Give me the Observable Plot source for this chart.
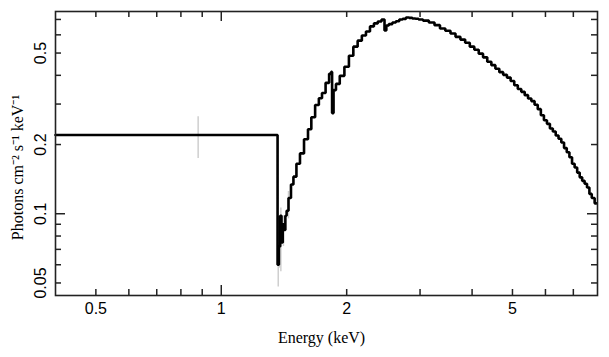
<!DOCTYPE html>
<html>
<head>
<meta charset="utf-8">
<script src="https://cdn.jsdelivr.net/npm/d3@7"></script>
<script src="https://cdn.jsdelivr.net/npm/@observablehq/plot@0.6"></script>
<style>
  html, body { margin: 0; padding: 0; background: #fff; }
</style>
</head>
<body>
<div id="chart"></div>
<script>
// Spectrum (energy in keV, flux in photons cm^-2 s^-1 keV^-1)
const energy = [0.4, 1.36, 1.37, 1.38, 1.39, 1.40, 1.41, 1.42, 1.43, 1.44, 1.46, 1.48, 1.50,
  1.53, 1.56, 1.60, 1.63, 1.66, 1.70, 1.73, 1.76, 1.80, 1.83,
  1.84, 1.85, 1.87, 1.90, 1.95, 2.0, 2.05, 2.1, 2.15, 2.2,
  2.25, 2.3, 2.35, 2.4, 2.45, 2.48, 2.5, 2.55, 2.6, 2.65, 2.7, 2.75, 2.8,
  2.85, 2.9, 2.95, 3.0, 3.1, 3.2, 3.3, 3.4, 3.5, 3.6, 3.7, 3.8, 3.9,
  4.0, 4.1, 4.2, 4.3, 4.4, 4.5, 4.6, 4.7, 4.8, 4.9,
  5.0, 5.1, 5.2, 5.3, 5.4, 5.5, 5.6, 5.7, 5.8, 5.9,
  6.0, 6.1, 6.2, 6.3, 6.4, 6.5, 6.6, 6.7, 6.8, 6.9,
  7.0, 7.1, 7.2, 7.3, 7.4, 7.5, 7.6, 7.7, 7.8, 7.95];
const flux = [0.22, 0.22, 0.060, 0.072, 0.098, 0.075, 0.090, 0.085, 0.098, 0.103, 0.117, 0.134, 0.145,
  0.165, 0.183, 0.211, 0.233, 0.263, 0.297, 0.318, 0.335, 0.371, 0.406,
  0.414, 0.274, 0.345, 0.367, 0.398, 0.436, 0.487, 0.533, 0.566, 0.596,
  0.620, 0.653, 0.673, 0.686, 0.700, 0.627, 0.659, 0.668, 0.679, 0.688, 0.700, 0.704, 0.714,
  0.711, 0.707, 0.705, 0.700, 0.692, 0.679, 0.661, 0.639, 0.625, 0.608, 0.588, 0.572, 0.554,
  0.533, 0.517, 0.497, 0.479, 0.458, 0.443, 0.427, 0.413, 0.402, 0.391,
  0.378, 0.362, 0.349, 0.339, 0.328, 0.317, 0.309, 0.298, 0.285, 0.268,
  0.255, 0.246, 0.235, 0.228, 0.219, 0.212, 0.204, 0.193, 0.185, 0.176,
  0.165, 0.159, 0.151, 0.144, 0.139, 0.135, 0.130, 0.122, 0.117, 0.111];

// Error bars (grey)
const errEnergy = [0.88, 1.37, 1.38, 1.39, 1.41, 1.45];
const errLow    = [0.174, 0.048, 0.058, 0.056, 0.072, 0.095];
const errHigh   = [0.264, 0.075, 0.085, 0.106, 0.098, 0.125];

// Ticks
const xLabels = [0.5, 1, 2, 5];
const xMinor = [0.5, 0.6, 0.7, 0.8, 0.9, 2, 3, 4, 5, 6, 7];
const xMajor = [1];
const yLabels = [0.05, 0.1, 0.2, 0.5];
const yMinor = [0.05, 0.06, 0.07, 0.08, 0.09, 0.2, 0.3, 0.4, 0.5, 0.6, 0.7];
const yMajor = [0.1];

const xTitle = "Energy (keV)";
const yTitle = "Photons cm\u207B\u00B2 s\u207B\u00B9 keV\u207B\u00B9";

const spectrum = energy.map((e, i) => ({e, f: flux[i]}));
const errs = errEnergy.map((e, i) => ({e, lo: errLow[i], hi: errHigh[i]}));

const W = 609, H = 357, ML = 55, MR = 12, MT = 11, MB = 62;
const FW = W - ML - MR, FH = H - MT - MB;
const sans = "'Liberation Sans', Arial, sans-serif";
const serif = "'Liberation Serif', 'Times New Roman', serif";

const chart = Plot.plot({
  width: W,
  height: H,
  marginLeft: ML,
  marginRight: MR,
  marginTop: MT,
  marginBottom: MB,
  style: {fontFamily: sans, fontSize: "16px", background: "white", color: "black"},
  x: {type: "log", domain: [0.4, 8.0], axis: null},
  y: {type: "log", domain: [0.0441, 0.758], axis: null},
  marks: [
    Plot.ruleX(errs, {x: "e", y1: "lo", y2: "hi", stroke: "#cfcfcf", strokeWidth: 1.5}),
    Plot.line(spectrum, {x: "e", y: "f", curve: "step", stroke: "black", strokeWidth: 2.6, strokeLinejoin: "miter"}),
    // inward ticks on all four sides
    Plot.ruleX(xMinor, {x: d => d, insetTop: FH - 6, stroke: "#222", strokeWidth: 1.5}),
    Plot.ruleX(xMinor, {x: d => d, insetBottom: FH - 6, stroke: "#222", strokeWidth: 1.5}),
    Plot.ruleX(xMajor, {x: d => d, insetTop: FH - 10, stroke: "#222", strokeWidth: 1.5}),
    Plot.ruleX(xMajor, {x: d => d, insetBottom: FH - 10, stroke: "#222", strokeWidth: 1.5}),
    Plot.ruleY(yMinor, {y: d => d, insetRight: FW - 6, stroke: "#222", strokeWidth: 1.5}),
    Plot.ruleY(yMinor, {y: d => d, insetLeft: FW - 6, stroke: "#222", strokeWidth: 1.5}),
    Plot.ruleY(yMajor, {y: d => d, insetRight: FW - 10, stroke: "#222", strokeWidth: 1.5}),
    Plot.ruleY(yMajor, {y: d => d, insetLeft: FW - 10, stroke: "#222", strokeWidth: 1.5}),
    // tick labels
    Plot.text(xLabels, {x: d => d, text: d => String(d), frameAnchor: "bottom", dy: 13, textAnchor: "middle", lineAnchor: "middle", fontSize: 16, fontFamily: sans, fill: "black"}),
    Plot.text(yLabels, {y: d => d, text: d => String(d), frameAnchor: "left", dx: -15, rotate: -90, textAnchor: "middle", lineAnchor: "middle", fontSize: 16, fontFamily: sans, fill: "black"}),
    // titles
    Plot.text([xTitle], {text: d => d, frameAnchor: "bottom", dx: -5, dy: 42, textAnchor: "middle", lineAnchor: "middle", fontSize: 16, fontFamily: serif, fill: "black"}),
    Plot.text([yTitle], {text: d => d, frameAnchor: "left", dx: -38, dy: 14, rotate: -90, textAnchor: "middle", lineAnchor: "middle", fontSize: 16, fontFamily: serif, fill: "black"}),
    Plot.frame({stroke: "#222", strokeWidth: 1.6})
  ]
});
document.getElementById("chart").appendChild(chart);
</script>
</body>
</html>
